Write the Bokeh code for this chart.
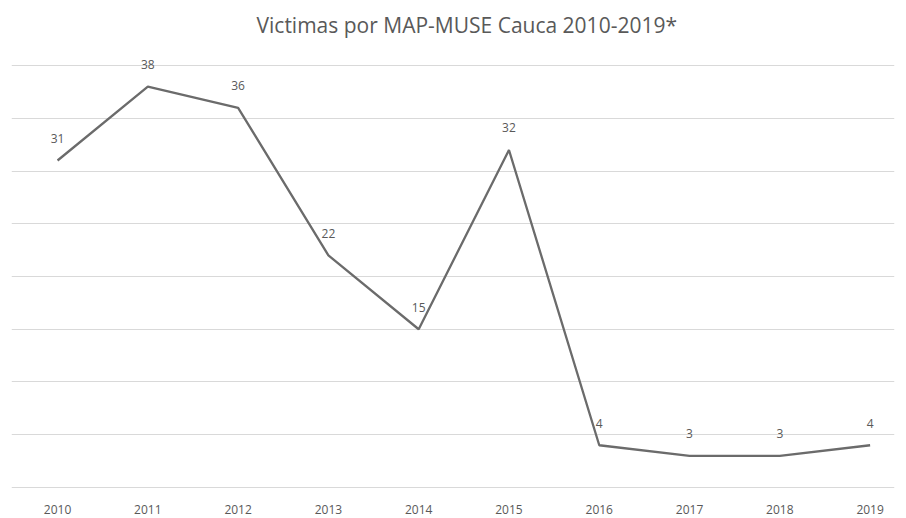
from bokeh.plotting import figure
from bokeh.models import ColumnDataSource, FixedTicker, Range1d
from bokeh.embed import file_html
from bokeh.resources import INLINE
from bokeh.core.properties import value

years = [2010, 2011, 2012, 2013, 2014, 2015, 2016, 2017, 2018, 2019]
victims = [31, 38, 36, 22, 15, 32, 4, 3, 3, 4]
grid_ticks = [0, 5, 10, 15, 20, 25, 30, 35, 40]
title_text = "Victimas por MAP-MUSE Cauca 2010-2019*"

src = ColumnDataSource(dict(x=years, y=victims, lbl=[str(v) for v in victims]))

p = figure(width=904, height=516, output_backend="svg", toolbar_location=None,
           x_range=Range1d(2009.49, 2019.27), y_range=Range1d(-0.1, 42),
           min_border_left=11, min_border_right=10, min_border_top=44, min_border_bottom=27)
p.outline_line_color = None
p.background_fill_color = "white"
p.border_fill_color = "white"

p.title.text = title_text
p.title.align = "left"
p.title.text_font = "Open Sans"
p.title.text_font_size = "21px"
p.title.text_font_style = "normal"
p.title.text_color = "#595959"
p.title.offset = 245
p.title.standoff = 12

p.yaxis.visible = False
p.ygrid.ticker = FixedTicker(ticks=grid_ticks)
p.ygrid.grid_line_color = "#d9d9d9"
p.ygrid.grid_line_width = 1
p.xgrid.visible = False

p.xaxis.ticker = FixedTicker(ticks=years)
p.xaxis.axis_line_color = None
p.xaxis.major_tick_line_color = None
p.xaxis.minor_tick_line_color = None
p.xaxis.major_tick_out = 0
p.xaxis.major_tick_in = 0
p.xaxis.major_label_text_font = "Open Sans"
p.xaxis.major_label_text_font_size = "12px"
p.xaxis.major_label_text_color = "#595959"
p.xaxis.major_label_standoff = 16

p.line("x", "y", source=src, line_color="#6b6b6b", line_width=2.3)
p.text("x", "y", text="lbl", source=src, text_align="center", text_baseline="middle",
       y_offset=-22, text_font=value("Open Sans"), text_font_size="12px", text_color="#595959")

open("out.html", "w").write(file_html(p, INLINE))
